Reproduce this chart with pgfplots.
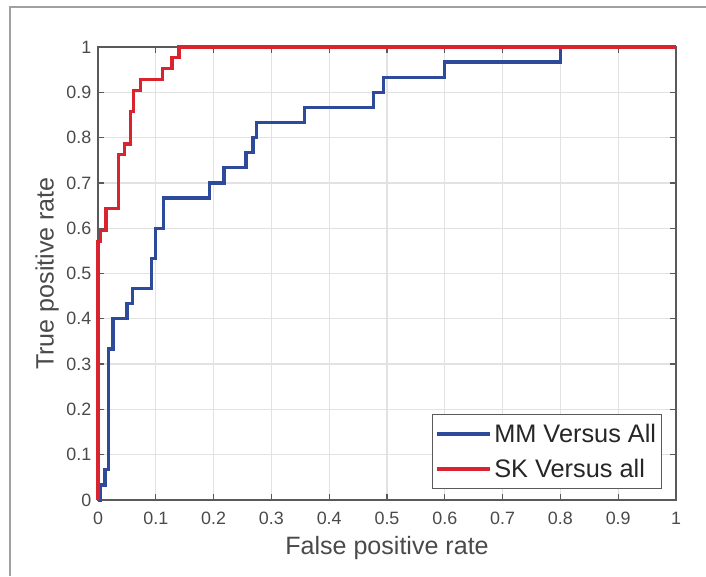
\documentclass[border=0pt]{standalone}
\usepackage{pgfplots}
\pgfplotsset{compat=1.18}
\usepackage{fontspec}
\setmainfont{Liberation Sans}
\definecolor{mmblue}{HTML}{2E4A9B}
\definecolor{skred}{HTML}{D9232E}
\definecolor{axgray}{HTML}{5A5A5A}
\definecolor{txtgray}{HTML}{4A4A4A}
\definecolor{gridgray}{HTML}{E2E2E2}
\definecolor{framegray}{HTML}{A0A0A0}
\begin{document}
\begin{tikzpicture}
\useasboundingbox (0,0) rectangle (529.5pt,432pt);
\fill[white] (0,0) rectangle (529.5pt,432pt);
\draw[framegray, line width=1.6pt] (7.5pt,0) -- (7.5pt,426.75pt) -- (529.5pt,426.75pt);
\begin{axis}[
  at={(73.5pt,57pt)}, anchor=south west,
  scale only axis, width=433.5pt, height=339.75pt,
  xmin=0, xmax=1, ymin=0, ymax=1,
  xtick={0,0.1,0.2,0.3,0.4,0.5,0.6,0.7,0.8,0.9,1},
  ytick={0,0.1,0.2,0.3,0.4,0.5,0.6,0.7,0.8,0.9,1},
  xticklabels={0,0.1,0.2,0.3,0.4,0.5,0.6,0.7,0.8,0.9,1},
  yticklabels={0,0.1,0.2,0.3,0.4,0.5,0.6,0.7,0.8,0.9,1},
  /pgf/number format/assume math mode=true,
  tick align=inside, major tick length=4.5pt,
  tick style={axgray, line width=1pt},
  axis line style={axgray, line width=1.1pt},
  grid=major, major grid style={gridgray, line width=1pt},
  ticklabel style={font=\fontsize{13.4pt}{15pt}\selectfont, text=txtgray},
  xticklabel style={yshift=-5.5pt},
  yticklabel style={xshift=-1.5pt},
  xlabel={False positive rate}, ylabel={True positive rate},
  label style={font=\fontsize{18.8pt}{22pt}\selectfont, text=txtgray},
  xlabel style={at={(axis description cs:0.5,-0.106)}, anchor=center},
  ylabel style={at={(axis description cs:-0.088,0.5)}, anchor=center, rotate=0},
  clip=false,
  legend style={at={(axis description cs:0.976,0.024)}, anchor=south east,
    draw=axgray, line width=1pt, fill=white,
    font=\fontsize{19pt}{22pt}\selectfont, text=black!85,
    inner xsep=2pt, inner ysep=5pt, row sep=7pt},
  legend cell align=left,
  legend image code/.code={\draw[#1, line width=2.4pt] (0pt,0pt) -- (40pt,0pt);},
]
\addplot[mmblue, line width=2.4pt] coordinates {
(0,0) (0.005,0) (0.005,0.0333) (0.012,0.0333) (0.012,0.0667) (0.018,0.0667)
(0.018,0.3333) (0.026,0.3333) (0.026,0.4) (0.05,0.4) (0.05,0.4333) (0.06,0.4333)
(0.06,0.4667) (0.093,0.4667) (0.093,0.5333) (0.10,0.5333) (0.10,0.6) (0.114,0.6)
(0.114,0.6667) (0.193,0.6667) (0.193,0.7) (0.218,0.7) (0.218,0.7333) (0.256,0.7333)
(0.256,0.7667) (0.268,0.7667) (0.268,0.8) (0.274,0.8) (0.274,0.8333) (0.357,0.8333)
(0.357,0.8667) (0.476,0.8667) (0.476,0.9) (0.494,0.9) (0.494,0.9333) (0.60,0.9333)
(0.60,0.9667) (0.80,0.9667) (0.80,1) (1,1)
};
\addlegendentry{MM Versus All}
\addplot[skred, line width=2.4pt] coordinates {
(0,0) (0,0.5714) (0.005,0.5714) (0.005,0.5952) (0.014,0.5952) (0.014,0.6429)
(0.036,0.6429) (0.036,0.7619) (0.046,0.7619) (0.046,0.7857) (0.056,0.7857)
(0.056,0.8571) (0.062,0.8571) (0.062,0.9048) (0.073,0.9048) (0.073,0.9286)
(0.111,0.9286) (0.111,0.9524) (0.128,0.9524) (0.128,0.9762) (0.14,0.9762)
(0.14,1) (1,1)
};
\addlegendentry{SK Versus all}
\end{axis}
\end{tikzpicture}
\end{document}
